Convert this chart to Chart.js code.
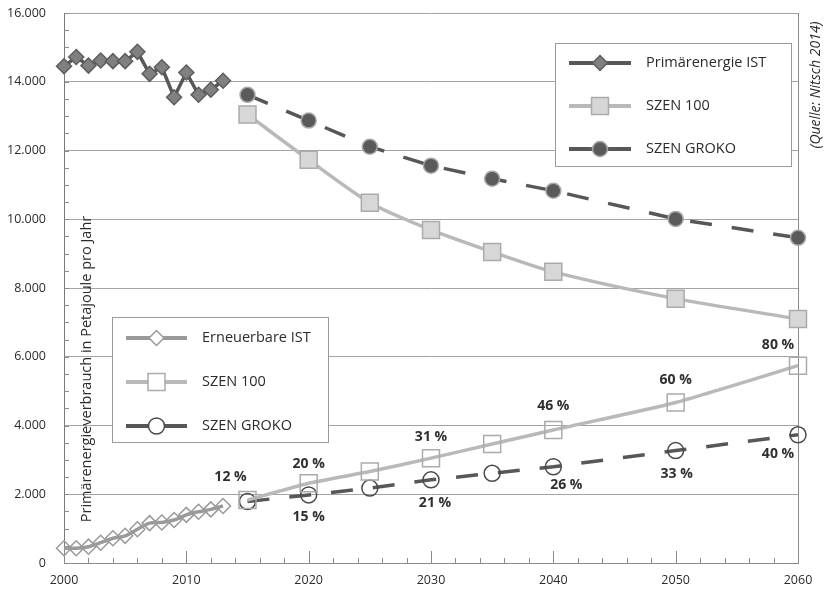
<!DOCTYPE html>
<html>
<head>
<meta charset="utf-8">
<script src="https://cdn.jsdelivr.net/npm/chart.js@4"></script>
<style>
  html, body { margin: 0; padding: 0; background: #fff; }
  #wrap { width: 829px; height: 593px; position: relative; }
</style>
</head>
<body>
<div id="wrap"><canvas id="myChart" width="829" height="593"></canvas></div>
<script>
// Jahre und Werte (Petajoule pro Jahr)
const istYears = [2000, 2001, 2002, 2003, 2004, 2005, 2006, 2007, 2008, 2009, 2010, 2011, 2012, 2013];
const szenYears = [2015, 2020, 2025, 2030, 2035, 2040, 2050, 2060];

const primaerIst = [14450, 14720, 14470, 14620, 14600, 14600, 14870, 14230, 14420, 13550, 14270, 13620, 13770, 14030];
const primaerSzen100 = [13050, 11730, 10480, 9690, 9050, 8470, 7690, 7100];
const primaerGroko = [13620, 12870, 12110, 11560, 11180, 10830, 10010, 9460];

const erneuerbarIst = [430, 430, 475, 590, 720, 790, 980, 1160, 1180, 1250, 1400, 1490, 1560, 1660];
const erneuerbarSzen100 = [1830, 2320, 2660, 3050, 3460, 3870, 4670, 5740];
const erneuerbarGroko = [1790, 1980, 2180, 2420, 2610, 2800, 3270, 3730];

// Anteile Erneuerbare
const anteilSzen100Years = [2015, 2020, 2030, 2040, 2050, 2060];
const anteilSzen100 = ['12 %', '20 %', '31 %', '46 %', '60 %', '80 %'];
const anteilGrokoYears = [2020, 2030, 2040, 2050, 2060];
const anteilGroko = ['15 %', '21 %', '26 %', '33 %', '40 %'];

const yTicks = [0, 2000, 4000, 6000, 8000, 10000, 12000, 14000, 16000];
const xTicks = [2000, 2010, 2020, 2030, 2040, 2050, 2060];

const FONT = "'Open Sans', 'Noto Sans', sans-serif";
const DARK = '#575757';
const MID = '#9a9a9a';
const LIGHT = '#b9b9b9';

function pts(xs, ys) {
    return xs.map((x, i) => ({ x: x, y: ys[i] }));
}

function fmt(v) {
    return String(v).replace(/\B(?=(\d{3})+(?!\d))/g, '.');
}

const styles = {
    primIst: { pointStyle: 'rectRot', radius: 7.5, backgroundColor: '#808080', borderColor: '#5e5e5e', borderWidth: 1.5, line: DARK },
    prim100: { pointStyle: 'rect', radius: 12, backgroundColor: '#d7d7d7', borderColor: '#ababab', borderWidth: 1.5, line: LIGHT },
    primGroko: { pointStyle: 'circle', radius: 7.5, backgroundColor: '#5a5a5a', borderColor: '#a8a8a8', borderWidth: 1.5, line: DARK },
    ernIst: { pointStyle: 'rectRot', radius: 7.5, backgroundColor: 'rgba(255,255,255,0)', borderColor: '#9a9a9a', borderWidth: 1.5, line: MID },
    ern100: { pointStyle: 'rect', radius: 12, backgroundColor: 'rgba(255,255,255,0)', borderColor: '#ababab', borderWidth: 1.5, line: LIGHT },
    ernGroko: { pointStyle: 'circle', radius: 8, backgroundColor: 'rgba(255,255,255,0)', borderColor: '#4a4a4a', borderWidth: 1.5, line: DARK }
};

function ds(label, data, st, dashed, tension) {
    return {
        label: label,
        data: data,
        clip: false,
        borderColor: st.line,
        borderWidth: 3.5,
        borderDash: dashed ? [22, 20] : [],
        tension: tension,
        fill: false,
        pointStyle: st.pointStyle,
        pointRadius: st.radius,
        pointBackgroundColor: st.backgroundColor,
        pointBorderColor: st.borderColor,
        pointBorderWidth: st.borderWidth
    };
}

const datasets = [
    ds('Primärenergie IST', pts(istYears, primaerIst), styles.primIst, false, 0),
    ds('Primär SZEN 100', pts(szenYears, primaerSzen100), styles.prim100, false, 0.25),
    ds('Primär SZEN GROKO', pts(szenYears, primaerGroko), styles.primGroko, true, 0),
    ds('Erneuerbare IST', pts(istYears, erneuerbarIst), styles.ernIst, false, 0.3),
    ds('Erneuerbar SZEN 100', pts(szenYears, erneuerbarSzen100), styles.ern100, false, 0.2),
    ds('Erneuerbar SZEN GROKO', pts(szenYears, erneuerbarGroko), styles.ernGroko, true, 0)
];

function drawLegend(ctx, box, items) {
    ctx.save();
    ctx.fillStyle = '#fff';
    ctx.fillRect(box.x, box.y, box.w, box.h);
    ctx.strokeStyle = '#9a9a9a';
    ctx.lineWidth = 1;
    ctx.strokeRect(box.x + 0.5, box.y + 0.5, box.w, box.h);
    items.forEach((it, i) => {
        const y = box.y + box.first + i * box.step;
        ctx.strokeStyle = it.st.line;
        ctx.lineWidth = 4;
        ctx.setLineDash([]);
        ctx.beginPath();
        ctx.moveTo(box.x + box.lineX0, y);
        ctx.lineTo(box.x + box.lineX1, y);
        ctx.stroke();
        const px = box.x + (box.lineX0 + box.lineX1) / 2;
        const fillCol = it.st.backgroundColor.indexOf('rgba') === 0 ? '#fff' : it.st.backgroundColor;
        ctx.fillStyle = fillCol;
        ctx.strokeStyle = it.st.borderColor;
        ctx.lineWidth = it.st.borderWidth;
        Chart.helpers.drawPoint(ctx, { pointStyle: it.st.pointStyle, radius: it.st.radius, rotation: 0, borderWidth: it.st.borderWidth }, px, y);
        ctx.fillStyle = '#2b2b2b';
        ctx.font = '14.5px ' + FONT;
        ctx.textAlign = 'left';
        ctx.textBaseline = 'middle';
        ctx.fillText(it.label, box.x + box.textX, y);
    });
    ctx.restore();
}

const framePlugin = {
    id: 'frame',
    beforeDatasetsDraw(chart) {
        const ctx = chart.ctx;
        const a = chart.chartArea;
        const xs = chart.scales.x;
        const ys = chart.scales.y;
        ctx.save();
        ctx.strokeStyle = '#8a8a8a';
        ctx.lineWidth = 1;
        // rechter Rahmen
        ctx.beginPath();
        ctx.moveTo(Math.round(a.right) + 0.5, a.top);
        ctx.lineTo(Math.round(a.right) + 0.5, a.bottom);
        ctx.stroke();
        // kleine Striche y-Achse
        for (let v = 0; v <= 16000; v += 500) {
            const y = Math.round(ys.getPixelForValue(v)) + 0.5;
            ctx.beginPath();
            ctx.moveTo(a.left, y);
            ctx.lineTo(a.left + 5, y);
            ctx.stroke();
        }
        // kleine Striche x-Achse
        for (let yr = 2000; yr <= 2060; yr += 2) {
            const x = Math.round(xs.getPixelForValue(yr)) + 0.5;
            const len = yr % 10 === 0 ? 12 : 5;
            ctx.beginPath();
            ctx.moveTo(x, a.bottom);
            ctx.lineTo(x, a.bottom - len);
            ctx.stroke();
        }
        ctx.restore();

        drawLegend(ctx, { x: 555, y: 43, w: 236, h: 123, first: 20, step: 43, lineX0: 14, lineX1: 76, textX: 91 }, [
            { label: 'Primärenergie IST', st: styles.primIst },
            { label: 'SZEN 100', st: styles.prim100 },
            { label: 'SZEN GROKO', st: styles.primGroko }
        ]);
        drawLegend(ctx, { x: 112, y: 317, w: 216, h: 125, first: 21, step: 44, lineX0: 14, lineX1: 75, textX: 90 }, [
            { label: 'Erneuerbare IST', st: styles.ernIst },
            { label: 'SZEN 100', st: styles.ern100 },
            { label: 'SZEN GROKO', st: styles.ernGroko }
        ]);

        // Achsentitel
        ctx.save();
        ctx.fillStyle = '#2b2b2b';
        ctx.font = '14.5px ' + FONT;
        ctx.textAlign = 'center';
        ctx.textBaseline = 'middle';
        ctx.translate(87, 369);
        ctx.rotate(-Math.PI / 2);
        ctx.fillText('Primärenergieverbrauch in Petajoule pro Jahr', 0, 0);
        ctx.restore();
    },
    afterDatasetsDraw(chart) {
        const ctx = chart.ctx;
        const xs = chart.scales.x;
        const ys = chart.scales.y;
        ctx.save();
        ctx.fillStyle = '#2f2f2f';
        ctx.font = 'bold 14px ' + FONT;
        ctx.textAlign = 'center';
        ctx.textBaseline = 'middle';
        const offUp = [[-17, -23], [0, -19], [0, -21], [0, -24], [0, -22], [-20, -21]];
        anteilSzen100.forEach((t, i) => {
            const yr = anteilSzen100Years[i];
            const v = erneuerbarSzen100[szenYears.indexOf(yr)];
            ctx.fillText(t, xs.getPixelForValue(yr) + offUp[i][0], ys.getPixelForValue(v) + offUp[i][1]);
        });
        const offDown = [[0, 22], [4, 23], [13, 18], [1, 23], [-20, 19]];
        anteilGroko.forEach((t, i) => {
            const yr = anteilGrokoYears[i];
            const v = erneuerbarGroko[szenYears.indexOf(yr)];
            ctx.fillText(t, xs.getPixelForValue(yr) + offDown[i][0], ys.getPixelForValue(v) + offDown[i][1]);
        });
        // Quelle
        ctx.fillStyle = '#2b2b2b';
        ctx.font = 'italic 14px ' + FONT;
        ctx.translate(816, 85);
        ctx.rotate(-Math.PI / 2);
        ctx.fillText('(Quelle: Nitsch 2014)', 0, 0);
        ctx.restore();
    }
};

const config = {
    type: 'line',
    data: { datasets: datasets },
    options: {
        responsive: false,
        animation: false,
        events: [],
        layout: { autoPadding: false, padding: { top: 13, right: 31, left: 0, bottom: 0 } },
        plugins: {
            legend: { display: false },
            tooltip: { enabled: false }
        },
        scales: {
            x: {
                type: 'linear',
                min: 2000,
                max: 2060,
                afterBuildTicks: (scale) => { scale.ticks = xTicks.map(v => ({ value: v })); },
                afterFit: (scale) => { scale.height = 30; scale.paddingLeft = 0; scale.paddingRight = 0; },
                grid: { display: false, drawTicks: false },
                border: { display: true, color: '#8a8a8a', width: 1 },
                ticks: {
                    padding: 10,
                    maxRotation: 0,
                    color: '#2b2b2b',
                    font: { family: FONT, size: 12.5 },
                    callback: (v) => String(v)
                }
            },
            y: {
                min: 0,
                max: 16000,
                afterBuildTicks: (scale) => { scale.ticks = yTicks.map(v => ({ value: v })); },
                afterFit: (scale) => { scale.width = 64; scale.paddingTop = 0; scale.paddingBottom = 0; },
                grid: { color: '#a3a3a3', lineWidth: 1, drawTicks: false },
                border: { display: true, color: '#7a7a7a', width: 1 },
                ticks: {
                    padding: 18,
                    color: '#2b2b2b',
                    font: { family: FONT, size: 12.5 },
                    callback: (v) => fmt(v)
                }
            }
        }
    },
    plugins: [framePlugin]
};

window.onload = function() {
    const ctx = document.getElementById('myChart').getContext('2d');
    new Chart(ctx, config);
};
</script>
</body>
</html>
